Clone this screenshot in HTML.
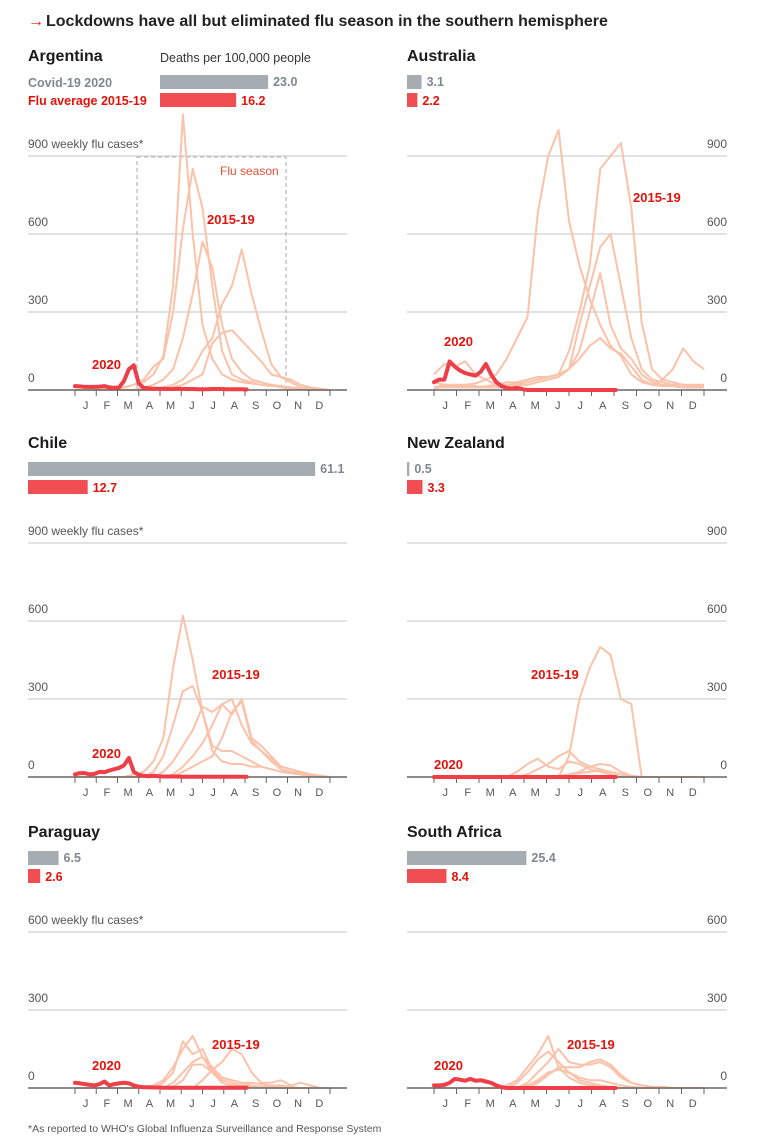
<!DOCTYPE html>
<html><head><meta charset="utf-8"><style>
body{margin:0;background:#fff;}
svg{display:block;font-family:"Liberation Sans",sans-serif;}
</style></head><body>
<svg id="c" width="769" height="1143" viewBox="0 0 769 1143">
<text x="28" y="26" font-size="16" font-weight="bold" fill="#e3120b">→</text>
<text x="46" y="26" font-size="16" font-weight="bold" fill="#222">Lockdowns have all but eliminated flu season in the southern hemisphere</text>
<text x="28" y="1132" font-size="10.5" fill="#555">*As reported to WHO's Global Influenza Surveillance and Response System</text>
</svg>
<script>
const countries=["Argentina","Australia","Chile","New Zealand","Paraguay","South Africa"];
const covidDeaths=[23.0,3.1,61.1,0.5,6.5,25.4];
const fluDeaths=[16.2,2.2,12.7,3.3,2.6,8.4];
const months=["J","F","M","A","M","J","J","A","S","O","N","D"];
const ticksBig=[0,300,600,900];
const ticksSmall=[0,300,600];
// biweekly values (weeks 0,2,...,52)
const arg1=[20,10,5,5,5,10,20,30,60,130,400,1060,600,250,120,60,40,30,25,20,15,15,10,5,5,0,0];
const arg2=[0,0,0,0,0,10,20,40,90,120,300,620,850,700,400,150,60,40,30,20,20,10,5,5,0,0,0];
const arg3=[0,0,0,0,0,0,0,10,20,40,80,200,370,570,470,250,120,70,40,30,20,15,10,5,0,0,0];
const arg4=[0,0,0,0,0,0,0,0,0,10,20,40,80,150,200,330,400,540,370,230,100,50,30,10,5,0,0];
const arg5=[0,0,0,0,0,0,0,0,0,5,10,20,40,60,180,220,230,190,150,110,60,50,40,20,10,5,0];
const aus1=[30,20,15,20,25,40,60,120,200,280,680,900,1000,650,480,350,250,170,130,60,30,20,15,15,10,10,10];
const aus2=[10,10,10,10,10,15,20,20,25,30,40,50,60,150,300,480,850,900,950,700,260,80,40,30,20,20,20];
const aus3=[10,20,20,15,10,10,10,15,20,30,40,50,60,80,250,400,550,600,400,200,80,40,30,20,20,15,15];
const aus4=[5,15,20,20,15,10,10,10,15,20,30,40,50,80,150,300,450,250,160,120,60,30,20,15,10,10,10];
const aus5=[60,100,90,110,60,40,20,30,30,40,50,50,60,80,120,170,200,160,140,90,40,20,40,80,160,110,80];
const chi1=[0,0,0,0,0,0,10,20,60,150,420,620,450,250,100,60,50,50,40,40,30,20,15,10,5,0,0];
const chi2=[0,0,0,0,0,0,0,0,20,80,200,330,350,250,120,100,100,80,60,40,30,20,15,10,5,0,0];
const chi3=[0,0,0,0,0,0,0,0,0,20,60,120,180,270,250,280,300,200,130,100,60,30,20,10,5,0,0];
const chi4=[0,0,0,0,0,0,0,0,0,0,10,40,80,130,200,280,240,300,150,120,80,40,30,15,10,5,0];
const chi5=[0,0,0,0,0,0,0,0,0,0,0,20,40,60,80,150,250,290,140,100,70,40,30,20,10,5,0];
const nz1=[0,0,0,0,0,0,0,0,0,0,0,0,0,80,300,420,500,470,300,280,0,0,0,0,0,0,0];
const nz2=[0,0,0,0,0,0,0,0,0,10,30,50,80,100,60,40,30,20,10,0,0,0,0,0,0,0,0];
const nz3=[0,0,0,0,0,0,0,0,20,50,70,40,30,60,50,30,20,10,0,0,0,0,0,0,0,0,0];
const nz4=[0,0,0,0,0,0,0,0,0,0,0,0,0,10,20,40,50,45,20,5,0,0,0,0,0,0,0];
const nz5=[0,0,0,0,0,0,0,0,0,0,0,0,5,10,15,20,25,20,10,0,0,0,0,0,0,0,0];
const par1=[0,0,0,0,0,0,0,0,10,30,80,150,200,120,60,20,10,5,5,5,5,5,0,0,0,0,0];
const par2=[0,0,0,0,0,0,0,0,0,20,60,180,130,150,70,30,20,10,5,5,5,0,0,0,0,0,0];
const par3=[0,0,0,0,0,0,0,0,0,0,20,60,100,120,80,40,30,20,10,5,0,0,0,0,0,0,0];
const par4=[0,0,0,0,0,0,0,0,0,0,0,0,0,30,70,100,150,130,60,20,20,30,10,20,10,0,0];
const par5=[0,0,0,0,0,0,0,0,0,0,5,30,90,90,60,40,30,20,20,15,10,10,5,0,0,0,0];
const sa1=[0,0,0,0,0,0,0,10,30,80,130,200,80,40,20,10,5,0,0,0,0,0,0,0,0,0,0];
const sa2=[0,0,0,0,0,0,0,0,20,60,110,140,100,60,30,20,10,5,0,0,0,0,0,0,0,0,0];
const sa3=[0,0,0,0,0,0,0,0,0,20,60,100,150,100,90,90,100,80,40,20,10,5,0,0,0,0,0];
const sa4=[0,0,0,0,0,0,0,0,0,0,20,50,80,80,80,100,110,90,50,20,10,5,5,0,0,0,0];
const sa5=[0,0,0,0,0,0,0,0,0,10,30,60,70,60,40,30,30,20,10,5,0,0,0,0,0,0,0];
// weekly 2020 values (weeks 0..35)
const arg2020=[15,14,12,12,12,13,15,10,8,10,35,80,95,25,8,6,5,5,5,4,4,5,4,4,4,3,3,3,4,4,4,3,3,3,3,2];
const aus2020=[30,40,40,110,90,75,65,60,55,70,100,60,30,15,8,5,8,3,0,0,0,0,0,0,0,0,0,0,0,0,0,0,0,0,0,0];
const chi2020=[10,15,15,10,12,20,18,25,30,35,45,73,20,8,5,3,5,3,2,2,2,2,1,1,1,1,1,1,1,1,1,1,1,1,1,1];
const nz2020=[0,0,0,0,0,0,0,0,0,0,0,0,0,0,0,0,0,0,0,0,0,0,0,0,0,0,0,0,0,0,0,0,0,0,0,0];
const par2020=[20,18,15,12,10,15,25,10,15,18,20,18,10,5,3,3,2,2,1,1,1,1,1,1,1,1,1,1,1,1,1,1,1,1,1,1];
const sa2020=[10,10,12,20,35,32,28,35,28,30,25,20,10,3,0,0,0,0,0,0,0,0,0,0,0,0,0,0,0,0,0,0,0,0,0,0];

const hist=[[arg1,arg2,arg3,arg4,arg5],[aus1,aus2,aus3,aus4,aus5],[chi1,chi2,chi3,chi4,chi5],[nz1,nz2,nz3,nz4,nz5],[par1,par2,par3,par4,par5],[sa1,sa2,sa3,sa4,sa5]];
const cur=[arg2020,aus2020,chi2020,nz2020,par2020,sa2020];

const svg=document.getElementById('c');
const NS='http://www.w3.org/2000/svg';
function mk(tag,attrs,parent){const e=document.createElementNS(NS,tag);for(const k in attrs)e.setAttribute(k,attrs[k]);(parent||svg).appendChild(e);return e;}
function txt(s,attrs,parent){const e=mk('text',attrs,parent);e.textContent=s;return e;}

const rowTop=[0,387,776];
const baseYs=[390,777,1088];
const lab2015=[[207,219],[633,197],[212,674],[531,674],[212,1044],[567,1044]];
const lab2020=[[92,369],[444,346],[92,758],[434,769],[92,1070],[434,1070]];

for(let p=0;p<6;p++){
  const right=p%2===1, row=Math.floor(p/2);
  const g=mk('g',{});
  
  
  const L=right?407:28, R=right?727:347, t0=right?434:75, t1=right?704:330;
  const base=baseYs[row], top=rowTop[row];
  const xs=w=>t0+w/52*(t1-t0);
  const ys=v=>base-v*78/300;
  const t=txt(countries[p],{x:L,y:top+61,'font-size':16,'font-weight':'bold',fill:'#1a1a1a'},g);
  
  
  // bars
  const bx=(p===0)?160:L, k=4.7;
  const b1=mk('rect',{x:bx,y:top+75,width:covidDeaths[p]*k,height:14,fill:'#a5adb2'},g);
  
  
  const b2=mk('rect',{x:bx,y:top+93,width:fluDeaths[p]*k,height:14,fill:'#f04e53'},g);
  
  
  const v1=txt(covidDeaths[p].toFixed(1),{x:bx+covidDeaths[p]*k+5,y:top+86,'font-size':12.5,'font-weight':'bold',fill:'#7d8890'},g);
  
  
  const v2=txt(fluDeaths[p].toFixed(1),{x:bx+fluDeaths[p]*k+5,y:top+105,'font-size':12.5,'font-weight':'bold',fill:'#e3120b'},g);
  
  
  // gridlines
  const ticks=row===2?ticksSmall:ticksBig;
  ticks.forEach(v=>{
    if(v>0){const gl=mk('line',{x1:L,x2:R,y1:ys(v),y2:ys(v),stroke:'#d9d9d9','stroke-width':1.5},g);
    
    }
    let s=String(v);
    if(!right && v===ticks[ticks.length-1]) s=v+' weekly flu cases*';
    const tl=txt(s,{x:right?R:L,y:ys(v)-8,'font-size':12,fill:'#555','text-anchor':right?'end':'start'},g);
    
    
  });
  // flu season box for Argentina
  if(p===0){
    const fb=mk('rect',{x:137,y:157,width:149,height:233,fill:'none',stroke:'#aaa','stroke-dasharray':'4,3','stroke-width':1},g);
    
    
    const fl=txt('Flu season',{x:220,y:175,'font-size':12,fill:'#e8503a'},g);
    
    
  }
  // historic lines
  hist[p].forEach(arr=>{
    const pts=arr.map((v,i)=>xs(i*2).toFixed(1)+','+ys(v).toFixed(1)).join(' ');
    const pl=mk('polyline',{points:pts,fill:'none',stroke:'#fbc2aa','stroke-width':2,'stroke-linejoin':'round'},g);
    
    
  });
  // axis
  const ax=mk('line',{x1:L,x2:R,y1:base,y2:base,stroke:'#666','stroke-width':1.5},g);
  
  
  for(let i=0;i<=12;i++){
    const x=t0+i*(t1-t0)/12;
    const tk=mk('line',{x1:x,x2:x,y1:base,y2:base+6,stroke:'#666','stroke-width':1},g);
    
    
    if(i<12){const ml=txt(months[i],{x:x+(t1-t0)/24,y:base+19,'font-size':11,fill:'#555','text-anchor':'middle'},g);
    
    }
  }
  // 2020 line
  const pts=cur[p].map((v,i)=>xs(i).toFixed(1)+','+ys(v).toFixed(1)).join(' ');
  const cl=mk('polyline',{points:pts,fill:'none',stroke:'#ee3f48','stroke-width':4,'stroke-linejoin':'round','stroke-linecap':'round'},g);
  
  
  const l1=txt('2015-19',{x:lab2015[p][0],y:lab2015[p][1]+5,'font-size':13,'font-weight':'bold',fill:'#e3120b'},g);
  
  
  const l2=txt('2020',{x:lab2020[p][0],y:lab2020[p][1],'font-size':13,'font-weight':'bold',fill:'#e3120b'},g);
  
  
}
const d=txt('Deaths per 100,000 people',{x:160,y:62,'font-size':12.5,fill:'#333'});


const lc=txt('Covid-19 2020',{x:28,y:87,'font-size':12.5,'font-weight':'bold',fill:'#7d8890'});


const lf=txt('Flu average 2015-19',{x:28,y:105,'font-size':12.5,'font-weight':'bold',fill:'#e3120b'});


</script>
</body></html>
